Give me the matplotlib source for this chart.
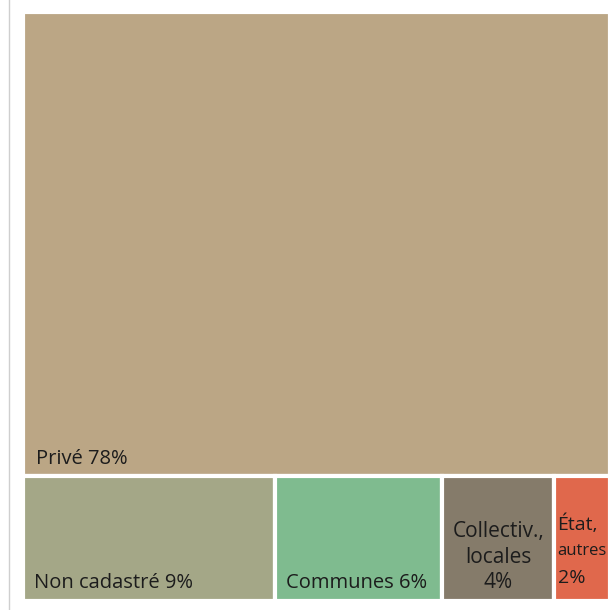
import matplotlib
matplotlib.use("Agg")
import matplotlib.pyplot as plt
from matplotlib.patches import Rectangle
from matplotlib.lines import Line2D

# Land ownership shares (%)
top_label = "Privé"
top_value = 78
row_labels = ["Non cadastré", "Communes", "Collectiv.,\nlocales", "État,"]
row_values = [9, 6, 4, 2]
colors = ["#bba685", "#a4a787", "#7fbb8f", "#857b6a", "#e0684c"]

plt.rcParams["font.family"] = ["Open Sans", "DejaVu Sans"]

fig = plt.figure(figsize=(6.13, 6.10), dpi=100)
fig.patch.set_facecolor("white")

# frame line on the left edge
fig.add_artist(Line2D([8.5 / 613, 8.5 / 613], [0, 1], transform=fig.transFigure,
                      color="#cfcfcf", lw=1.0))

W, H = 613, 610
left, right, top, bottom = 23, 610, 12, 601
ax = fig.add_axes([left / W, 1 - bottom / H, (right - left) / W, (bottom - top) / H])
ax.set_axis_off()

total = top_value + sum(row_values)
row_total = sum(row_values)
ax.set_xlim(0, row_total)
ax.set_ylim(0, total)

edge_kw = dict(edgecolor="white", linewidth=3.0)
txt = "#1c1c1c"

# large tile on top
ax.add_patch(Rectangle((0, row_total), row_total, top_value, facecolor=colors[0], **edge_kw))
ax.annotate(f"{top_label} {top_value}%", xy=(0, row_total), xytext=(9, 9),
            textcoords="offset points", ha="left", va="baseline",
            fontsize=14.5, color=txt)

# bottom row, widths proportional to value
x = 0
for i, (lab, v) in enumerate(zip(row_labels, row_values)):
    ax.add_patch(Rectangle((x, 0), v, row_total, facecolor=colors[i + 1], **edge_kw))
    if i < 2:
        ax.annotate(f"{lab} {v}%", xy=(x, 0), xytext=(8, 9.5),
                    textcoords="offset points", ha="left", va="baseline",
                    fontsize=14.5, color=txt)
    elif i == 2:
        ax.annotate(f"{lab}\n{v}%", xy=(x + v / 2, 0), xytext=(0, 9),
                    textcoords="offset points", ha="center", va="baseline",
                    fontsize=15, color=txt, linespacing=1.3,
                    multialignment="center")
    else:
        ax.annotate(lab, xy=(x, 0), xytext=(2.5, 51),
                    textcoords="offset points", ha="left", va="baseline",
                    fontsize=14, color=txt)
        ax.annotate("autres", xy=(x, 0), xytext=(2.5, 33),
                    textcoords="offset points", ha="left", va="baseline",
                    fontsize=12, color=txt)
        ax.annotate(f"{v}%", xy=(x, 0), xytext=(2.5, 13),
                    textcoords="offset points", ha="left", va="baseline",
                    fontsize=14, color=txt)
    x += v

fig.savefig("out.png", dpi=100, facecolor="white")
